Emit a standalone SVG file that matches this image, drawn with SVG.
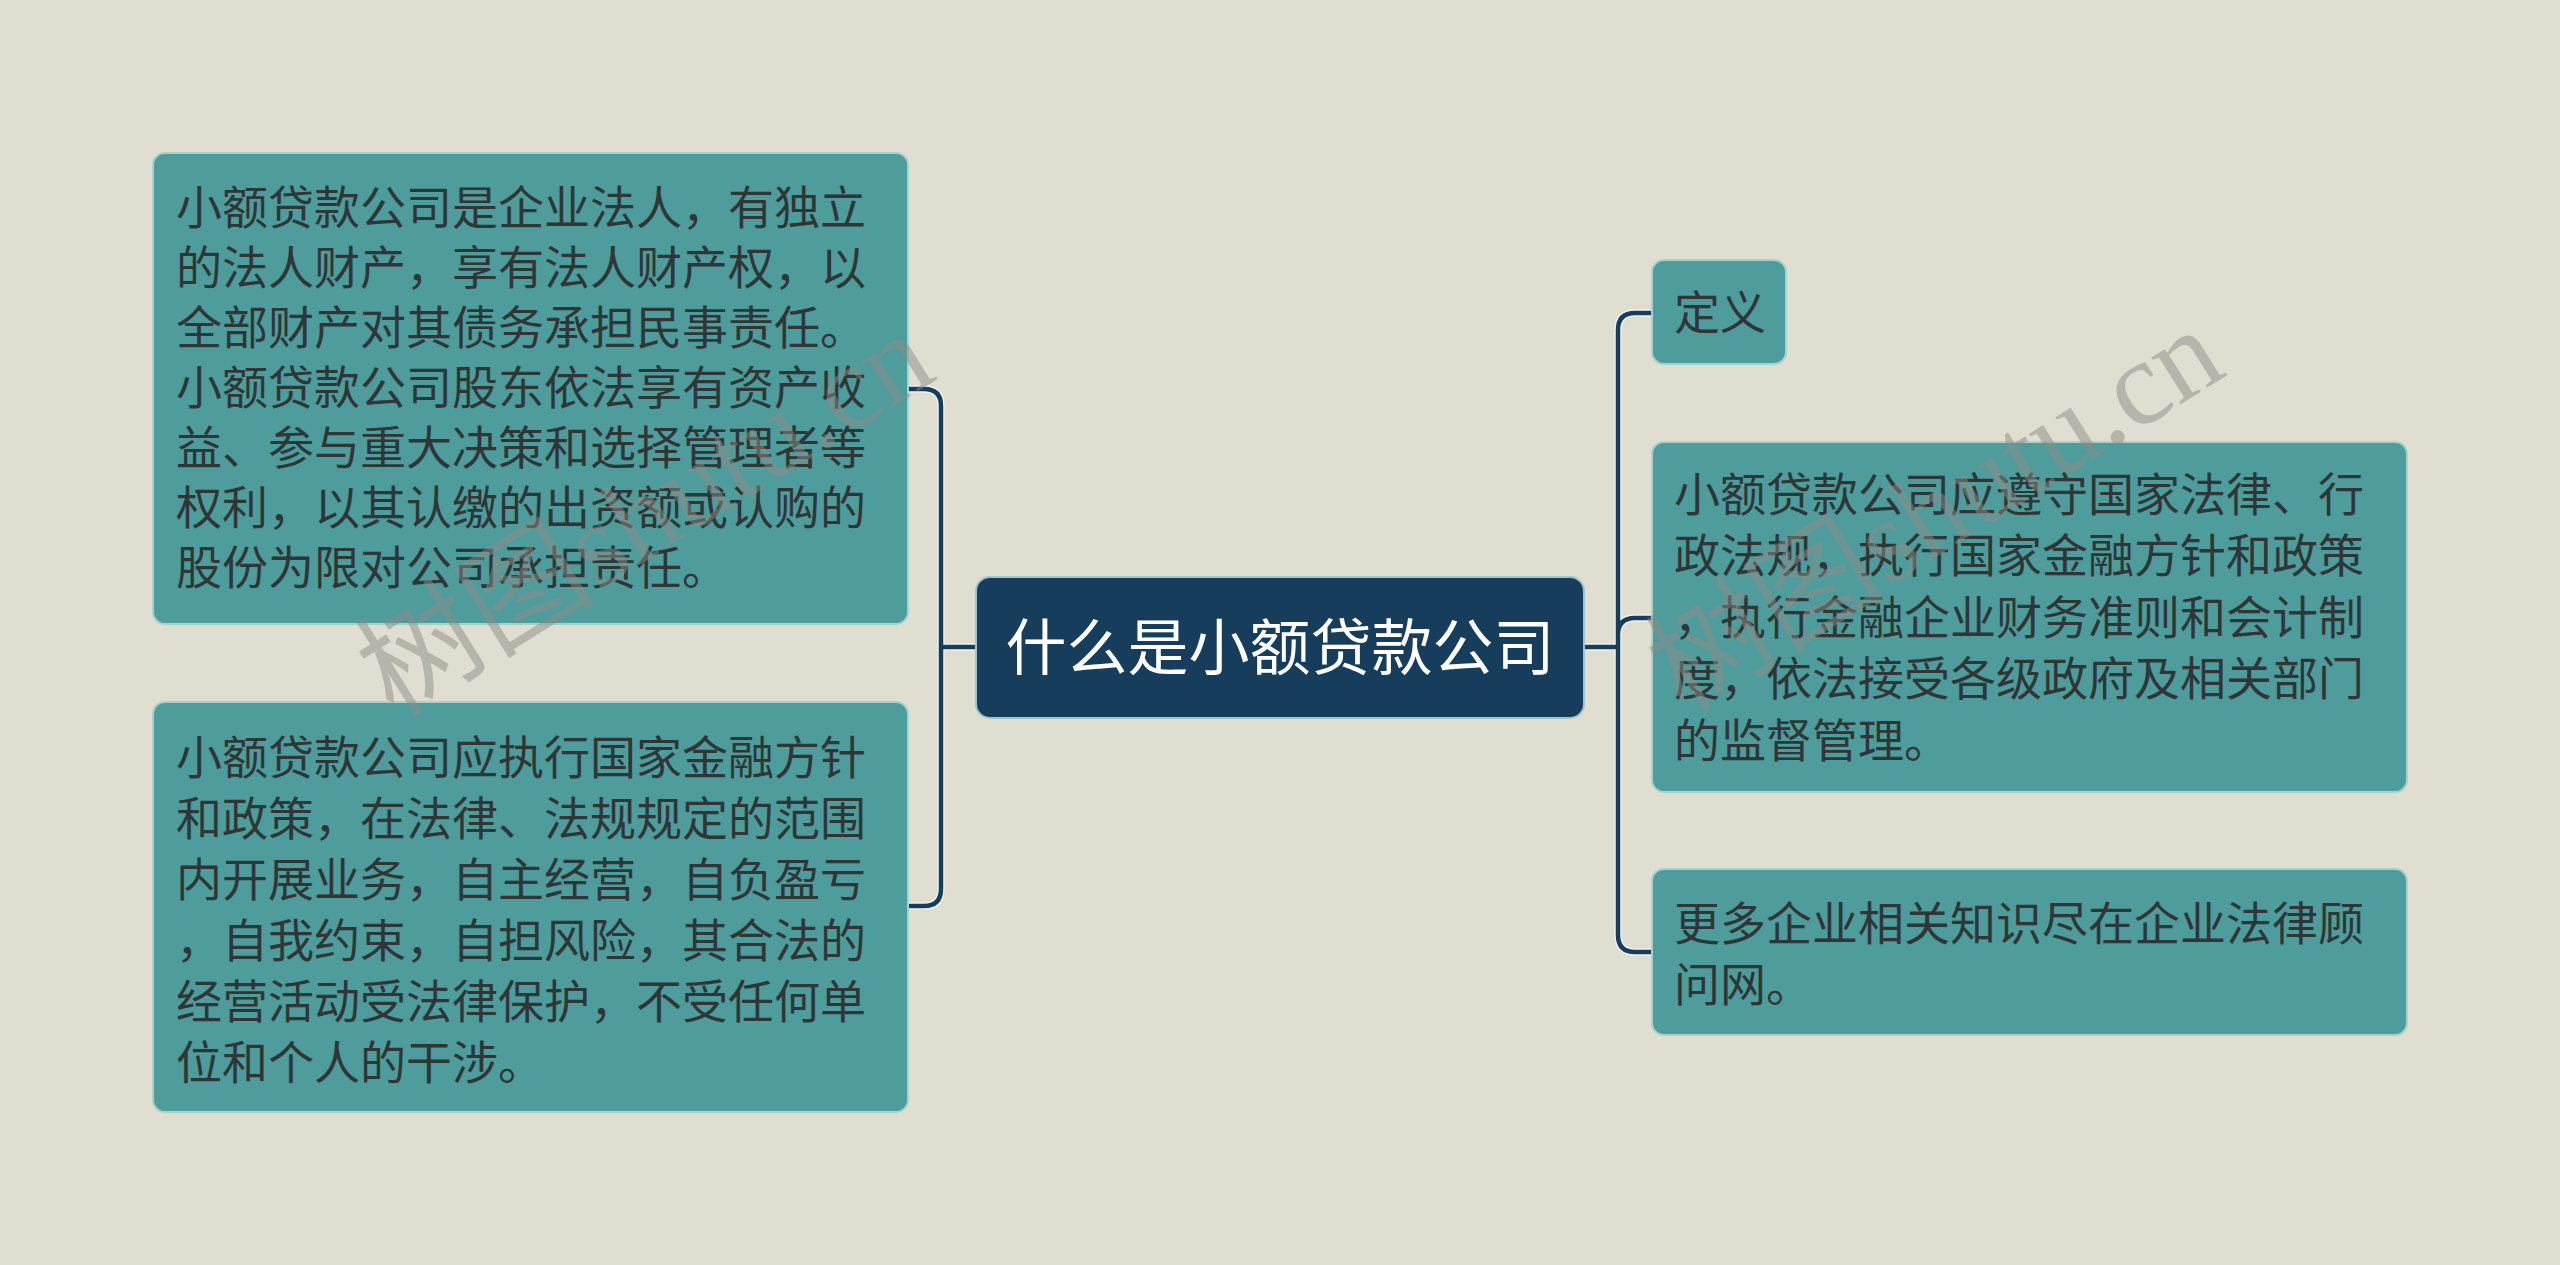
<svg xmlns="http://www.w3.org/2000/svg" width="2560" height="1265" viewBox="0 0 2560 1265">
<style>
.bg{fill:#e0ded1}
.topic{fill:#4e9c9c;stroke:#a6d2cc;stroke-width:2}
.root{fill:#163d5c;stroke:#9fc3cf;stroke-width:2}
.t{font-family:"Noto Sans CJK SC","Noto Sans",sans-serif;font-size:46px;fill:#2e3636}
.rt{font-family:"Noto Sans CJK SC","Noto Sans",sans-serif;font-size:61px;fill:#ffffff;text-anchor:middle}
.edge-halo{fill:none;stroke:#f4f6f2;stroke-width:7;stroke-linecap:round;stroke-linejoin:round}
.edge{fill:none;stroke:#163d5c;stroke-width:4.5;stroke-linecap:round;stroke-linejoin:round}
.wm{font-family:"Liberation Serif","Noto Sans CJK SC",serif;font-size:120px;fill:#8c8c86;fill-opacity:0.5}
</style>
<rect class="bg" x="0" y="0" width="2560" height="1265"/>
<g id="connectors">
<path class="edge-halo" d="M976,647 H941 M908,389 H924 Q941,389 941,406 V889 Q941,906 924,906 H908"/>
<path class="edge-halo" d="M1584,647 H1618 M1652,313 H1635 Q1618,313 1618,330 V935 Q1618,952 1635,952 H1652 M1618,635 Q1618,618 1635,618 H1652"/>
<path class="edge" d="M976,647 H941 M908,389 H924 Q941,389 941,406 V889 Q941,906 924,906 H908"/>
<path class="edge" d="M1584,647 H1618 M1652,313 H1635 Q1618,313 1618,330 V935 Q1618,952 1635,952 H1652 M1618,635 Q1618,618 1635,618 H1652"/>
</g>
<g id="root">
<rect class="root" x="976" y="577" width="608" height="141" rx="14"/>
<text class="rt" x="1280" y="670">什么是小额贷款公司</text>
</g>
<g id="left1">
<rect class="topic" x="153" y="153" width="755" height="471" rx="12"/>
<text class="t" x="176" y="224">小额贷款公司是企业法人，有独立</text>
<text class="t" x="176" y="284">的法人财产，享有法人财产权，以</text>
<text class="t" x="176" y="344">全部财产对其债务承担民事责任。</text>
<text class="t" x="176" y="404">小额贷款公司股东依法享有资产收</text>
<text class="t" x="176" y="464">益、参与重大决策和选择管理者等</text>
<text class="t" x="176" y="524">权利，以其认缴的出资额或认购的</text>
<text class="t" x="176" y="584">股份为限对公司承担责任。</text>
</g>
<g id="left2">
<rect class="topic" x="153" y="702" width="755" height="410" rx="12"/>
<text class="t" x="176" y="774">小额贷款公司应执行国家金融方针</text>
<text class="t" x="176" y="835">和政策，在法律、法规规定的范围</text>
<text class="t" x="176" y="896">内开展业务，自主经营，自负盈亏</text>
<text class="t" x="176" y="957">，自我约束，自担风险，其合法的</text>
<text class="t" x="176" y="1018">经营活动受法律保护，不受任何单</text>
<text class="t" x="176" y="1079">位和个人的干涉。</text>
</g>
<g id="right1">
<rect class="topic" x="1652" y="260" width="134" height="104" rx="12"/>
<text class="t" x="1674" y="329">定义</text>
</g>
<g id="right2">
<rect class="topic" x="1652" y="442" width="755" height="350" rx="12"/>
<text class="t" x="1674" y="511">小额贷款公司应遵守国家法律、行</text>
<text class="t" x="1674" y="572">政法规，执行国家金融方针和政策</text>
<text class="t" x="1674" y="634">，执行金融企业财务准则和会计制</text>
<text class="t" x="1674" y="695">度，依法接受各级政府及相关部门</text>
<text class="t" x="1674" y="757">的监督管理。</text>
</g>
<g id="right3">
<rect class="topic" x="1652" y="869" width="755" height="166" rx="12"/>
<text class="t" x="1674" y="940">更多企业相关知识尽在企业法律顾</text>
<text class="t" x="1674" y="1001">问网。</text>
</g>
<g id="watermarks">
<text class="wm" transform="translate(645,514) rotate(-32)" text-anchor="middle" dominant-baseline="central">树图shutu.cn</text>
<text class="wm" transform="translate(1935,510) rotate(-32)" text-anchor="middle" dominant-baseline="central">树图shutu.cn</text>
</g>
</svg>
